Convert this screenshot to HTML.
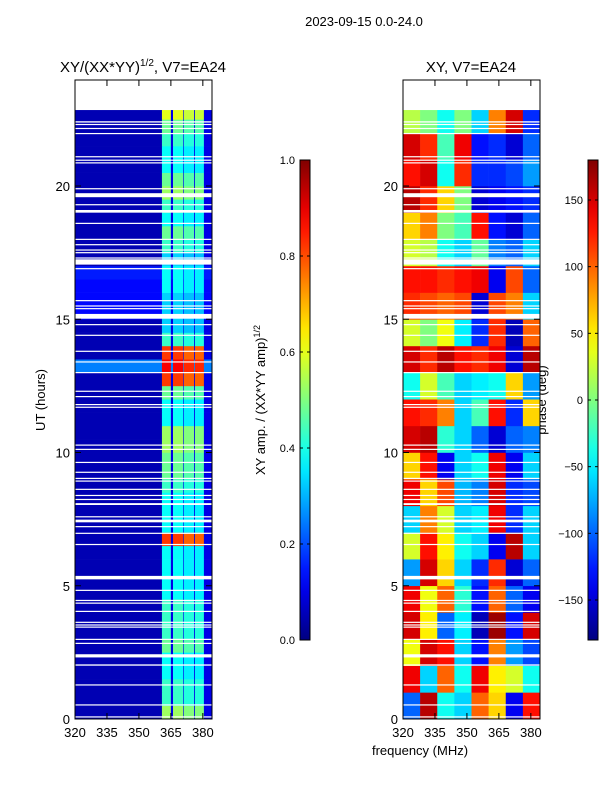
<!DOCTYPE html>
<html><head><meta charset="utf-8"><style>
body{margin:0;background:#fff;}
svg text{font-family:"Liberation Sans",sans-serif;fill:#000;}
</style></head><body>
<svg id="fig" width="600" height="800" xmlns="http://www.w3.org/2000/svg">
<text x="364" y="26" font-size="13" text-anchor="middle">2023-09-15 0.0-24.0</text>
<text x="143" y="72" font-size="15" text-anchor="middle">XY/(XX*YY)<tspan font-size="10" dy="-6">1/2</tspan><tspan dy="6">, V7=EA24</tspan></text>
<text x="471" y="72" font-size="15" text-anchor="middle">XY, V7=EA24</text>
<text transform="translate(45,400) rotate(-90)" font-size="13" text-anchor="middle">UT (hours)</text>
<text x="420" y="755" font-size="13" text-anchor="middle">frequency (MHz)</text>
<text transform="translate(265,400) rotate(-90)" font-size="13" text-anchor="middle">XY amp. / (XX*YY amp)<tspan font-size="9" dy="-5">1/2</tspan></text>
<text transform="translate(546,400) rotate(-90)" font-size="13" text-anchor="middle">phase (deg)</text>
<g id="left"></g>
<g id="right"></g>
<g id="cb"></g>
<g id="axes"></g>
</svg>
<script>
// ---- data ----
const freqTicks=[320,335,350,365,380];
const utTicks=[0,5,10,15,20];
const stripLo=[360.8,366,371,376.3];
const stripHi=[365,370.7,375.9,380.5];
const stripGain=[1.0,1.0,0.95,0.95];
// strip amplitude per half hour (0..23)
const stripLevel=[.53,.43,.43,.38,.38,.48,.43,.43,.43,.38,.38,.38,.38,.82,.38,.38,.38,.43,.48,.48,.53,.53,.38,.38,.48,.82,.88,.82,.43,.33,.33,.33,.38,.38,.33,.43,.48,.38,.43,.53,.48,.38,.38,.43,.48,.6];
// background amplitude per half hour
const bgLevel=[.05,.05,.05,.05,.05,.05,.05,.05,.05,.05,.05,.05,.05,.05,.05,.05,.05,.05,.05,.05,.05,.05,.05,.05,.05,.05,.25,.05,.05,.05,.13,.13,.13,.15,.05,.05,.05,.05,.05,.05,.05,.05,.05,.05,.05,.05];
// phase, hourly rows (0..23), 8 frequency columns
const phase=[
[-100,160,-40,-60,100,60,-140,130],
[140,-60,100,-40,140,50,30,-40],
[40,150,130,-60,-130,90,-80,-110],
[150,50,-100,-50,-160,170,-130,150],
[140,40,100,-30,-130,100,-100,-140],
[-80,150,60,-60,-120,120,-150,-100],
[30,130,50,-40,-60,-140,160,-60],
[-60,90,30,-60,-50,140,-120,-60],
[140,60,110,-70,-90,150,-120,-110],
[60,130,-140,-60,-40,140,-140,-60],
[150,160,-30,-60,-100,-150,-100,-90],
[130,120,90,-60,-20,130,-120,60],
[-40,30,-20,-60,-50,-40,60,-80],
[150,120,160,130,120,140,-150,160],
[30,0,40,-50,-120,120,-160,100],
[120,110,100,110,-150,110,90,-60],
[130,130,120,130,140,-140,110,-100],
[30,20,-40,-60,-10,-90,-100,-60],
[60,90,0,-20,130,-130,-150,-100],
[160,120,60,0,-150,-140,-130,-120],
[130,150,-40,120,-120,-120,-110,-80],
[150,120,-20,140,-130,-120,-150,-100],
[20,0,-40,0,-60,90,150,-120]];
const gapStart=[22.38,22.29,22.14,21.95,21.08,20.95,20.85,19.88,19.58,19.28,19.0,18.58,17.98,17.78,17.58,17.48,17.28,17.05,16.88,15.68,15.48,15.38,15.02,14.78,14.38,13.78,13.38,12.98,12.28,12.08,11.78,11.68,10.26,10.1,9.61,9.24,9.01,8.91,8.6,8.37,8.22,8.03,7.57,7.38,7.2,6.95,6.53,5.24,4.81,4.43,4.33,4.02,3.61,3.51,3.43,2.97,2.82,2.31,2.0,1.26,0.51,0.06];
const gapEnd=[22.43,22.33,22.18,21.99,21.12,20.99,20.89,19.92,19.73,19.32,19.1,18.62,18.02,17.82,17.62,17.52,17.32,17.25,16.92,15.72,15.52,15.42,15.2,14.82,14.42,13.82,13.42,13.02,12.32,12.12,11.82,11.72,10.3,10.14,9.65,9.28,9.05,8.95,8.64,8.41,8.26,8.1,7.61,7.48,7.24,6.99,6.57,5.37,4.85,4.47,4.37,4.06,3.65,3.55,3.47,3.01,2.86,2.43,2.05,1.3,0.55,0.1];
const ampTicks=[0.0,0.2,0.4,0.6,0.8,1.0];
const phaseTicks=[-150,-100,-50,0,50,100,150];
// ---- geometry ----
const NS='http://www.w3.org/2000/svg';
const F0=320,F1=384.3,TMAX=22.85;
const Y0=719,PXH=26.65;
function yOf(t){return Y0-t*PXH;}
function xL(f){return 75+(f-F0)*(137/(F1-F0));}
function xR(f){return 403+(f-F0)*(137/(F1-F0));}
function jet(v){v=Math.max(0,Math.min(1,v));
 const r=Math.max(0,Math.min(1,1.5-Math.abs(4*v-3)));
 const g=Math.max(0,Math.min(1,1.5-Math.abs(4*v-2)));
 const b=Math.max(0,Math.min(1,1.5-Math.abs(4*v-1)));
 return `rgb(${Math.round(r*255)},${Math.round(g*255)},${Math.round(b*255)})`;}
function mk(tag,attrs,parent){const e=document.createElementNS(NS,tag);for(const k in attrs)e.setAttribute(k,attrs[k]);parent.appendChild(e);return e;}
const L=document.getElementById('left'),R=document.getElementById('right'),CB=document.getElementById('cb'),AX=document.getElementById('axes');
// left heatmap
const edges=[F0];
for(let i=0;i<stripLo.length;i++){edges.push(stripLo[i]);edges.push(stripHi[i]);}
edges.push(F1);
for(let r=0;r<stripLevel.length;r++){
 const t0=r*0.5,t1=Math.min(TMAX,t0+0.5);
 for(let c=0;c<edges.length-1;c++){
  let v=bgLevel[r];
  if(c%2===1){v=stripLevel[r]*stripGain[(c-1)/2];}
  else if(c>0){v=Math.max(bgLevel[r],0.1);}
  const el=mk('rect',{x:xL(edges[c]),y:yOf(t1),width:xL(edges[c+1])-xL(edges[c])+0.3,height:yOf(t0)-yOf(t1)+0.3,fill:jet(v)},L);
  
  
 }
}
// right heatmap
const nC=phase[0].length,df=(F1-F0)/nC;
for(let r=0;r<phase.length;r++){
 const t0=r,t1=Math.min(TMAX,r+1);
 for(let c=0;c<nC;c++){
  const el=mk('rect',{x:xR(F0+c*df),y:yOf(t1),width:xR(F0+(c+1)*df)-xR(F0+c*df)+0.3,height:yOf(t0)-yOf(t1)+0.3,fill:jet((phase[r][c]+180)/360)},R);
  
  
 }
}
// flagged gaps
for(let i=0;i<gapStart.length;i++){
 for(const [g,x] of [[L,75],[R,403]]){
  const el=mk('rect',{x:x,y:yOf(gapEnd[i]),width:137,height:Math.max(1.2,yOf(gapStart[i])-yOf(gapEnd[i])),fill:'#fff'},g);
  
  
 }
}
// axes frames & ticks
for(const [x0,xf] of [[75,xL],[403,xR]]){
 const fr=mk('rect',{x:x0,y:80,width:137,height:639,fill:'none',stroke:'#000','stroke-width':1},AX);
 
 
 freqTicks.forEach(f=>{
  const x=xf(f);
  mk('line',{x1:x,x2:x,y1:719,y2:713,stroke:'#000'},AX);
  mk('line',{x1:x,x2:x,y1:80,y2:86,stroke:'#000'},AX);
  const t=mk('text',{x:x,y:737,'font-size':13,'text-anchor':'middle'},AX);t.textContent=f;
  
  
 });
 utTicks.forEach(u=>{
  const y=yOf(u);
  mk('line',{x1:x0,x2:x0+6,y1:y,y2:y,stroke:'#000'},AX);
  mk('line',{x1:x0+137,x2:x0+131,y1:y,y2:y,stroke:'#000'},AX);
  const t=mk('text',{x:x0-5,y:y+5,'font-size':13,'text-anchor':'end'},AX);t.textContent=u;
  
  
 });
}
// colorbars
const defs=mk('defs',{},CB);
const gr=mk('linearGradient',{id:'jetg',x1:0,y1:1,x2:0,y2:0},defs);
for(let i=0;i<=20;i++)mk('stop',{offset:i/20,'stop-color':jet(i/20)},gr);
function cbar(x,lo,hi,ticks,fmt,name){
 const r=mk('rect',{x:x,y:160,width:10,height:480,fill:'url(#jetg)',stroke:'#000','stroke-width':1},CB);
 
 
 ticks.forEach(v=>{
  const y=640-(v-lo)/(hi-lo)*480;
  mk('line',{x1:x,x2:x+3,y1:y,y2:y,stroke:'#000'},CB);
  mk('line',{x1:x+10,x2:x+7,y1:y,y2:y,stroke:'#000'},CB);
  const t=mk('text',{x:x-5,y:y+4,'font-size':11,'text-anchor':'end'},CB);t.textContent=fmt(v);
  
  
 });
}
cbar(300,0,1,ampTicks,v=>v.toFixed(1),'amp-colorbar');
cbar(588,-180,180,phaseTicks,v=>v<0?'\u2212'+(-v):String(v),'phase-colorbar');
</script>
</body></html>
